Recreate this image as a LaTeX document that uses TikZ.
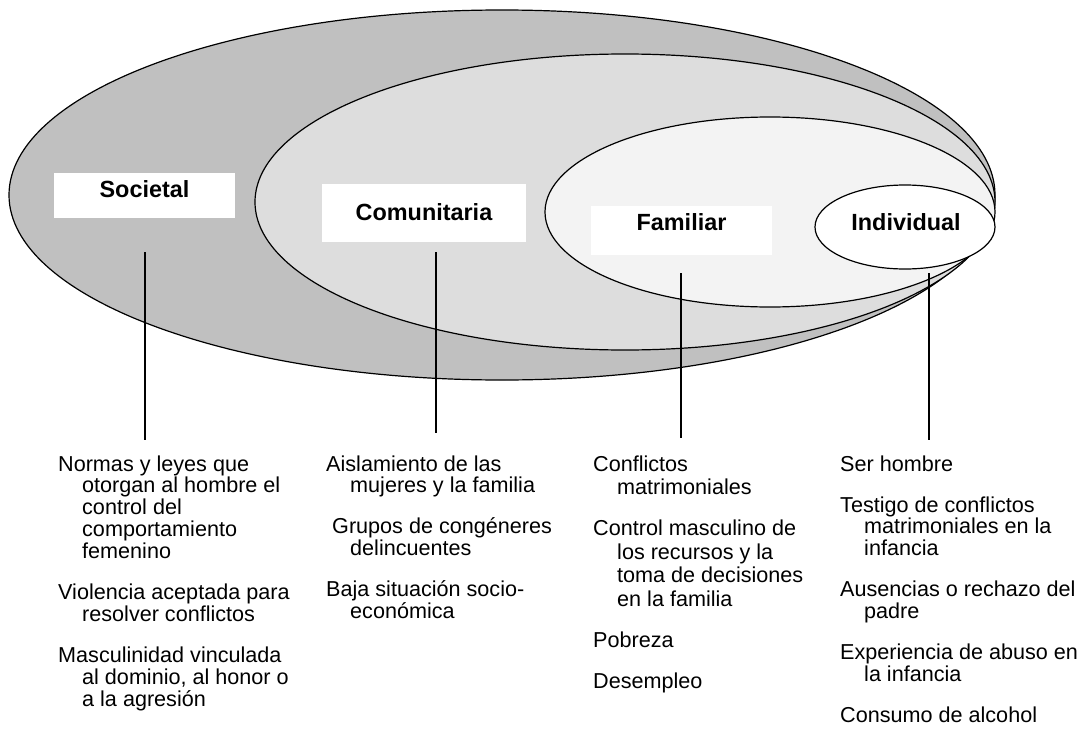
\documentclass[tikz,border=0pt]{standalone}
\usepackage{fontspec}
\setmainfont{Liberation Sans}
\definecolor{socg}{HTML}{C0C0C0}
\definecolor{comg}{HTML}{DDDDDD}
\definecolor{famg}{HTML}{F3F3F3}
\newcommand{\ind}{\hspace*{24pt}}
\newcommand{\gap}{\\[19.1pt]}
\newcommand{\gapb}{\\[17.8pt]}
\begin{document}
\begin{tikzpicture}[x=1pt,y=-1pt,
  ring/.style={draw=black, line width=1.2pt},
  lbox/.style={fill=white, inner sep=0pt, anchor=base, font=\fontsize{23.4}{24}\selectfont\bfseries},
  item/.style={anchor=base west, inner sep=0pt, font=\fontsize{21.6}{21.9}\selectfont},
  itemb/.style={anchor=base west, inner sep=0pt, font=\fontsize{21.6}{23.5}\selectfont},
  lead/.style={draw=black, line width=1.2pt}]
\useasboundingbox (0,0) rectangle (1079,736);
\fill[white] (0,0) rectangle (1079,736);
% rings
\draw[ring, fill=socg] (502,195) ellipse [x radius=493pt, y radius=185pt];
\draw[ring, fill=comg] (625,202) ellipse [x radius=370pt, y radius=148pt];
\draw[ring, fill=famg] (770,212) ellipse [x radius=225pt, y radius=95pt];
\draw[ring, fill=white] (905,227) ellipse [x radius=90pt, y radius=42pt];
% labels
\node[lbox, minimum width=181pt, text height=24pt, text depth=21pt] (soc) at (144.5,197) {Societal};
\node[lbox, minimum width=204pt, text height=36pt, text depth=22pt] (com) at (424,220) {Comunitaria};
\node[lbox, minimum width=181pt, text height=24pt, text depth=25pt] (fam) at (681.5,230) {Familiar};
\node[lbox, fill=none] (ind) at (906,230) {Individual};
% texts
\node[item] (t1) at (58,471) {\parbox[t]{260pt}{\raggedright
Normas y leyes que\\ \ind otorgan al hombre el\\ \ind control del\\ \ind comportamiento\\ \ind femenino\gap
Violencia aceptada para\\ \ind resolver conflictos\gap
Masculinidad vinculada\\ \ind al dominio, al honor o\\ \ind a la agresión}};
\node[item] (t2) at (326,471) {\parbox[t]{250pt}{\raggedright
Aislamiento de las\\ \ind mujeres y la familia\gap
\hspace*{6pt}Grupos de congéneres\\ \ind delincuentes\gap
Baja situación socio-\\ \ind económica}};
\node[itemb] (t3) at (593,471) {\parbox[t]{240pt}{\raggedright
Conflictos\\ \ind matrimoniales\gapb
Control masculino de\\ \ind los recursos y la\\ \ind toma de decisiones\\ \ind en la familia\gapb
Pobreza\gapb
Desempleo}};
\node[item] (t4) at (840,471) {\parbox[t]{240pt}{\raggedright
Ser hombre\gap
Testigo de conflictos\\ \ind matrimoniales en la\\ \ind infancia\gap
Ausencias o rechazo del\\ \ind padre\gap
Experiencia de abuso en\\ \ind la infancia\gap
Consumo de alcohol}};
% leader lines
\coordinate (s1) at (145,252); \coordinate (e1) at (145,440);
\coordinate (s2) at (436,252); \coordinate (e2) at (436,433);
\coordinate (s3) at (681,273); \coordinate (e3) at (681,438);
\coordinate (s4) at (929,273); \coordinate (e4) at (929,440);
\draw[lead] (s1) -- (e1);
\draw[lead] (s2) -- (e2);
\draw[lead] (s3) -- (e3);
\draw[lead] (s4) -- (e4);
\end{tikzpicture}
\end{document}
